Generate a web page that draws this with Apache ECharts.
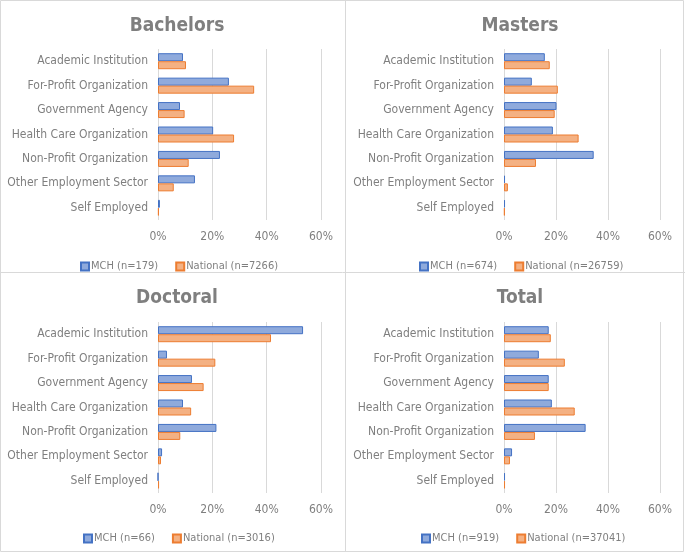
<!DOCTYPE html>
<html><head><meta charset="utf-8">
<script src="https://cdn.jsdelivr.net/npm/echarts@6/dist/echarts.min.js"></script>
<style>html,body{margin:0;padding:0;background:#fff}#c{width:685px;height:553px}</style>
</head><body><div id="c"></div>
<script>
var categories = ["Academic Institution","For-Profit Organization","Government Agency","Health Care Organization","Non-Profit Organization","Other Employment Sector","Self Employed"];
var panelTitles = ["Bachelors","Masters","Doctoral","Total"];
var mchNames = ["MCH (n=179)","MCH (n=674)","MCH (n=66)","MCH (n=919)"];
var natNames = ["National (n=7266)","National (n=26759)","National (n=3016)","National (n=37041)"];
var bachelorsMCH = [9.2,26.1,8.1,20.3,22.8,13.6,0.7];
var bachelorsNat = [10.3,35.4,9.8,28.0,11.3,5.8,0.3];
var mastersMCH = [15.7,10.7,20.2,18.8,34.5,0.4,0.4];
var mastersNat = [17.6,20.7,19.5,28.7,12.3,1.5,0.3];
var doctoralMCH = [53.4,3.3,12.5,9.2,21.5,1.5,0];
var doctoralNat = [41.6,21.1,16.8,12.2,8.2,1.1,0.4];
var totalMCH = [17.2,13.4,17.2,18.4,31.4,3.1,0.4];
var totalNat = [18.0,23.4,17.2,27.2,11.9,2.3,0.4];
var xTicks = [0,20,40,60];

var mchData = [bachelorsMCH, mastersMCH, doctoralMCH, totalMCH];
var natData = [bachelorsNat, mastersNat, doctoralNat, totalNat];

var FONT = "'Liberation Sans Narrow','DejaVu Sans Condensed','Roboto',sans-serif";
var TXT = '#7f7f7f';
var layout = [
  {left:158, top:49, width:163, height:171, cx:172, ty:12, lx:75, ly:256},
  {left:504, top:49, width:156, height:171, cx:515, ty:12, lx:414, ly:256},
  {left:158, top:322, width:163, height:171, cx:172, ty:284, lx:78, ly:528},
  {left:504, top:322, width:156, height:171, cx:515, ty:284, lx:416, ly:528}
];
var grids=[],xAxes=[],yAxes=[],series=[],titles=[],legends=[];
layout.forEach(function(p,i){
  grids.push({left:p.left,top:p.top,width:p.width,height:p.height});
  titles.push({text:panelTitles[i],left:p.cx,top:p.ty,textAlign:'center',
    textStyle:{fontFamily:FONT,fontSize:19,fontWeight:'bold',color:TXT}});
  xAxes.push({type:'value',gridIndex:i,min:xTicks[0],max:xTicks[xTicks.length-1],interval:xTicks[1]-xTicks[0],
    axisLine:{show:false},axisTick:{show:false},
    splitLine:{lineStyle:{color:'#d9d9d9',width:1}},
    axisLabel:{formatter:'{value}%',fontFamily:FONT,fontSize:12,color:TXT,margin:11}});
  yAxes.push({type:'category',gridIndex:i,data:categories,inverse:true,
    axisLine:{show:false},axisTick:{show:false},
    axisLabel:{fontFamily:FONT,fontSize:12,color:TXT,margin:10}});
  series.push({name:mchNames[i],type:'bar',xAxisIndex:i,yAxisIndex:i,data:mchData[i],
    barWidth:8,barGap:'0%',
    itemStyle:{color:'#8faadc',borderColor:'#4472c4',borderWidth:1}});
  series.push({name:natNames[i],type:'bar',xAxisIndex:i,yAxisIndex:i,data:natData[i],
    barWidth:8,barGap:'0%',
    itemStyle:{color:'#f4b183',borderColor:'#ed7d31',borderWidth:1}});
  legends.push({data:[mchNames[i],natNames[i]],left:p.lx,top:p.ly,width:300,
    itemWidth:8,itemHeight:8,itemGap:17,icon:'rect',selectedMode:false,
    textStyle:{fontFamily:FONT,fontSize:11,color:TXT,padding:[0,0,0,-3]}});
});

var chart = echarts.init(document.getElementById('c'),null,{renderer:'canvas'});
chart.setOption({
  animation:false,
  title:titles,
  grid:grids, xAxis:xAxes, yAxis:yAxes, series:series, legend:legends,
  graphic:[
    {type:'rect',shape:{x:0.5,y:0.5,width:683,height:551},style:{fill:null,stroke:'#d9d9d9',lineWidth:1},silent:true},
    {type:'line',shape:{x1:345.5,y1:0,x2:345.5,y2:552},style:{stroke:'#d9d9d9',lineWidth:1},silent:true},
    {type:'line',shape:{x1:0,y1:272.5,x2:685,y2:272.5},style:{stroke:'#d9d9d9',lineWidth:1},silent:true}
  ]
});
</script></body></html>
